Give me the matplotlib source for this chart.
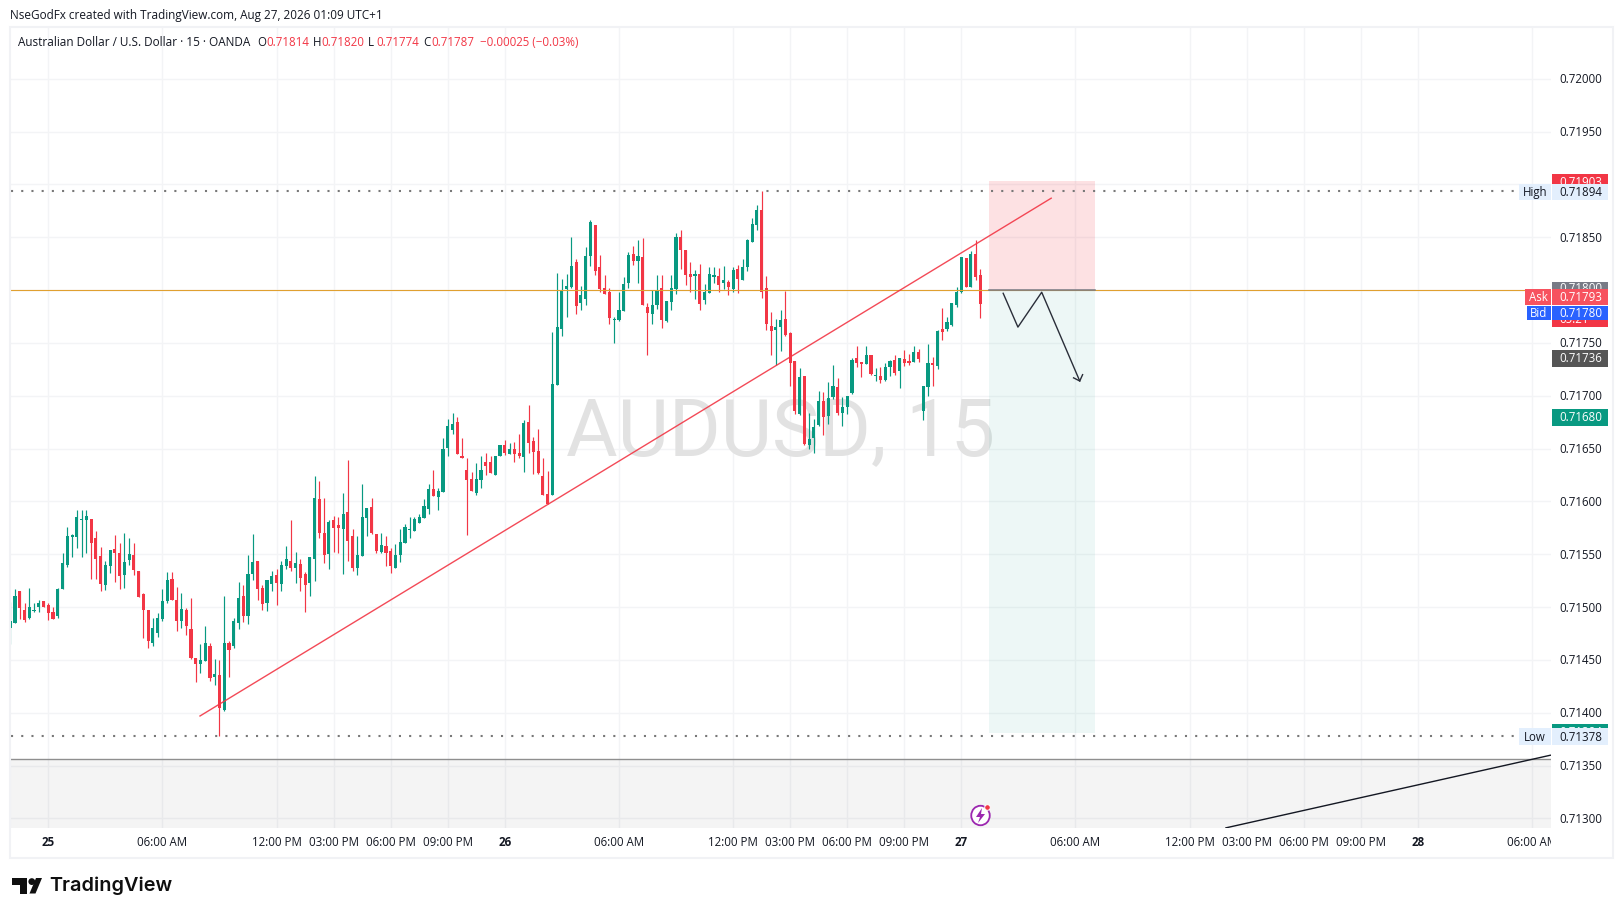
import numpy as np
import matplotlib
matplotlib.use("Agg")
import matplotlib.pyplot as plt
from matplotlib.patches import Rectangle, Ellipse, Polygon, Circle
from matplotlib.transforms import Bbox

# prices in 1/100000 of a dollar, 15-minute bars
first_bar = -8
opens = [71480,71485,71515,71497,71490,71496,71500,71506,71502,71495,
71492,71517,71540,71566,71566,71582,71582,71583,71565,71548,
71521,71539,71555,71551,71530,71545,71549,71534,71512,71497,
71466,71476,71489,71506,71527,71507,71487,71497,71479,71452,
71446,71449,71463,71434,71436,71403,71466,71463,71485,71511,
71492,71531,71544,71518,71504,71522,71530,71522,71539,71544,
71537,71541,71531,71523,71546,71602,71570,71550,71582,71578,
71574,71590,71567,71537,71548,71584,71595,71569,71552,71558,
71553,71537,71549,71561,71573,71572,71580,71584,71593,71612,
71604,71609,71651,71668,71675,71643,71630,71621,71608,71620,
71637,71637,71625,71643,71653,71645,71650,71646,71642,71675,
71657,71648,71624,71607,71606,71710,71763,71801,71803,71827,
71788,71792,71832,71862,71822,71802,71798,71772,71772,71780,
71807,71834,71828,71831,71784,71777,71786,71802,71771,71789,
71801,71850,71838,71815,71813,71815,71791,71797,71812,71813,
71807,71808,71801,71820,71810,71822,71846,71862,71876,71802,
71766,71762,71765,71773,71759,71733,71683,71719,71653,71660,
71672,71695,71681,71699,71708,71684,71689,71703,71736,71732,
71730,71739,71719,71719,71715,71727,71734,71723,71735,71733,
71732,71741,71686,71708,71731,71728,71763,71763,71767,71786,
71798,71830,71803,71834,71814]
highs = [71505,71517,71515,71504,71518,71504,71507,71506,71504,71500,
71518,71551,71576,71569,71592,71592,71592,71583,71572,71557,
71544,71554,71568,71561,71570,71565,71561,71534,71513,71497,
71490,71494,71517,71533,71533,71519,71513,71499,71509,71452,
71465,71482,71466,71451,71450,71511,71468,71490,71524,71521,
71549,71569,71544,71521,71526,71534,71536,71544,71558,71582,
71552,71546,71533,71547,71624,71619,71603,71582,71586,71585,
71608,71639,71574,71567,71617,71594,71603,71569,71570,71567,
71556,71560,71574,71579,71585,71585,71588,71602,71617,71630,
71613,71660,71678,71684,71680,71660,71641,71628,71636,71643,
71646,71643,71643,71653,71658,71655,71656,71664,71677,71691,
71661,71669,71641,71629,71760,71816,71811,71815,71850,71829,
71804,71841,71866,71862,71833,71814,71802,71775,71798,71812,
71836,71842,71847,71849,71788,71800,71814,71814,71790,71814,
71854,71857,71838,71827,71819,71825,71806,71822,71822,71821,
71823,71810,71822,71824,71829,71848,71868,71881,71894,71813,
71779,71773,71781,71799,71760,71733,71726,71719,71684,71678,
71705,71704,71713,71729,71717,71699,71700,71736,71747,71732,
71747,71739,71726,71727,71731,71734,71739,71736,71743,71740,
71747,71744,71709,71749,71737,71762,71783,71775,71788,71803,
71831,71830,71837,71847,71820]
lows = [71465,71485,71489,71486,71489,71495,71495,71500,71488,71489,
71490,71517,71538,71547,71556,71547,71551,71527,71527,71515,
71516,71532,71524,71517,71518,71540,71530,71510,71471,71461,
71463,71472,71487,71504,71507,71477,71480,71474,71451,71429,
71438,71449,71430,71426,71378,71402,71434,71461,71479,71486,
71484,71526,71507,71497,71496,71515,71502,71515,71536,71534,
71523,71515,71495,71511,71525,71565,71542,71536,71552,71551,
71531,71544,71534,71530,71548,71567,71569,71551,71551,71539,
71532,71537,71543,71561,71565,71572,71580,71584,71588,71605,
71592,71609,71643,71664,71645,71641,71568,71610,71606,71613,
71625,71627,71625,71643,71644,71645,71637,71641,71628,71646,
71626,71626,71606,71598,71606,71710,71757,71775,71802,71777,
71781,71786,71823,71814,71798,71796,71768,71750,71771,71780,
71802,71824,71807,71786,71739,71768,71782,71764,71770,71781,
71796,71820,71805,71798,71792,71781,71787,71797,71807,71798,
71801,71795,71798,71797,71810,71818,71846,71857,71793,71762,
71739,71729,71742,71757,71709,71683,71682,71653,71650,71646,
71671,71663,71673,71697,71682,71671,71683,71702,71727,71718,
71730,71720,71714,71712,71714,71719,71720,71707,71728,71729,
71732,71732,71677,71700,71709,71725,71753,71761,71766,71784,
71797,71803,71803,71810,71774]
closes = [71487,71511,71499,71488,71500,71497,71504,71500,71494,71489,
71517,71542,71567,71568,71585,71583,71586,71561,71546,71522,
71540,71554,71551,71529,71543,71550,71535,71510,71497,71468,
71480,71490,71506,71526,71507,71487,71498,71482,71452,71446,
71450,71466,71433,71437,71405,71466,71459,71487,71509,71492,
71531,71543,71517,71503,71526,71529,71523,71540,71546,71537,
71542,71528,71521,71547,71603,71570,71549,71581,71575,71575,
71588,71563,71537,71549,71585,71594,71570,71553,71559,71551,
71539,71549,71562,71576,71574,71583,71585,71596,71612,71605,
71610,71650,71671,71673,71645,71641,71620,71610,71621,71630,
71634,71627,71643,71653,71646,71650,71645,71643,71674,71655,
71647,71627,71606,71598,71711,71765,71800,71804,71823,71785,
71795,71832,71864,71818,71801,71796,71774,71773,71781,71806,
71833,71828,71832,71786,71778,71786,71800,71772,71790,71802,
71850,71838,71814,71812,71815,71787,71798,71815,71814,71805,
71810,71803,71819,71811,71822,71847,71863,71876,71798,71768,
71761,71765,71772,71758,71731,71686,71718,71654,71659,71670,
71695,71680,71698,71709,71684,71689,71700,71734,71731,71730,
71739,71721,71720,71715,71727,71733,71722,71736,71731,71731,
71741,71735,71709,71731,71729,71761,71760,71770,71788,71798,
71831,71803,71834,71812,71787]

price_ticks = [0.72000,0.71950,0.71900,0.71850,0.71800,0.71750,0.71700,0.71650,
               0.71600,0.71550,0.71500,0.71450,0.71400,0.71350,0.71300]
time_pos = [0,24,48,60,72,84,96,120,144,156,168,180,192,216,240,252,264,276,288,312]
time_labels = ["25","06:00 AM","12:00 PM","03:00 PM","06:00 PM","09:00 PM","26","06:00 AM",
               "12:00 PM","03:00 PM","06:00 PM","09:00 PM","27","06:00 AM","12:00 PM",
               "03:00 PM","06:00 PM","09:00 PM","28","06:00 AM"]
day_labels = {"25","26","27","28"}

high_price, low_price = 0.71894, 0.71378
hline_price = 0.71800
support_price = 0.71356
trend_x, trend_y = [31.9, 210.9], [0.71397, 0.71887]
lower_x, lower_y = [247.5, 316.0], [0.71291, 0.71360]
pos_x = [197.8, 220.1]
pos_stop, pos_entry, pos_target = 0.71903, 0.71800, 0.71381
path_x = [200.8, 203.9, 208.9, 216.9]
path_y = [0.71797, 0.71765, 0.71798, 0.71714]
head_x = [215.6, 216.9, 217.5]
head_y = [0.71717, 0.71714, 0.71720]

GREEN, RED = "#089981", "#f23645"
INK = "#131722"
GRID = "#f3f4f6"
FONT = "Open Sans"
plt.rcParams["font.family"] = [FONT, "DejaVu Sans"]

W, H = 1623, 916
fig = plt.figure(figsize=(W / 100, H / 100), dpi=100, facecolor="white")
L, R, T, B = 10.5, 1551.0, 27.0, 828.0
ax = fig.add_axes([L / W, 1 - B / H, (R - L) / W, (B - T) / H])
XLIM = (-7.95, 316.0)
YLIM = (0.71291, 0.72049)
ax.set_xlim(*XLIM)
ax.set_ylim(*YLIM)
ax.axis("off")

over = fig.add_axes([0, 0, 1, 1], zorder=5)
over.set_xlim(0, W)
over.set_ylim(H, 0)
over.axis("off")
over.patch.set_alpha(0)

def py(v):
    return B - (v - YLIM[0]) / (YLIM[1] - YLIM[0]) * (B - T)

# grid
for p in price_ticks:
    ax.axhline(p, color=GRID, lw=1.0, zorder=1)
for t in time_pos:
    ax.axvline(t, color=GRID, lw=1.0, zorder=1)

# watermark
ax.text((XLIM[0] + XLIM[1]) / 2, (0.72 - (455 - 79) / 105640), "AUDUSD, 15", color="#e2e2e2",
        fontsize=57, family="Roboto", ha="center", va="baseline", zorder=1.5)

# support zone
ax.axhspan(YLIM[0], support_price, color="black", alpha=0.045, lw=0, zorder=2)
ax.axhline(support_price, color="#8f8f8f", lw=1.0, zorder=2.2)
ax.plot(lower_x, lower_y, color="#131722", lw=1.0, zorder=6, solid_capstyle="butt")

# short position box
ax.add_patch(Rectangle((pos_x[0], pos_entry), pos_x[1] - pos_x[0], pos_stop - pos_entry,
                       fc=RED, alpha=0.15, lw=0, zorder=2.5))
ax.add_patch(Rectangle((pos_x[0], pos_target), pos_x[1] - pos_x[0], pos_entry - pos_target,
                       fc=GREEN, alpha=0.07, lw=0, zorder=2.5))
ax.plot(pos_x, [pos_entry, pos_entry], color="#787b86", lw=1.1, zorder=4.2)

# candles
op, hi, lo, cl = [np.array(a) / 1e5 for a in (opens, highs, lows, closes)]
xs = first_bar + np.arange(len(op))
cols = [GREEN if c >= o else RED for o, c in zip(op, cl)]
ax.vlines(xs, lo, hi, colors=cols, lw=0.85, zorder=3)
bottoms = np.minimum(op, cl)
heights = np.maximum(np.abs(cl - op), 0.00001)
ax.bar(xs, heights, 0.66, bottom=bottoms, color=cols, lw=0, zorder=3.1)

# levels
ax.axhline(hline_price, color="#e0a030", lw=0.8, zorder=4)
ax.plot(trend_x, trend_y, color=RED, lw=1.0, alpha=0.9, zorder=4.5)
ax.plot(path_x, path_y, color="#2a2e39", lw=1.0, zorder=5)
ax.plot(head_x, head_y, color="#2a2e39", lw=1.0, zorder=5)
for p in (high_price, low_price):
    ax.plot([XLIM[0], (1518 - 48.3) / 4.755], [p, p], color="#787878", lw=1.5,
            ls=(0, (1.0, 3.9)), zorder=4, dash_capstyle="butt")

# frame
over.add_patch(Rectangle((9.5, 26.5), 1603, 831, fc="none", ec="#f1f2f5", lw=1.5))

# price scale
hidden = {0.719, 0.718}
for p in price_ticks:
    if p not in hidden:
        over.text(1559.5, py(p) + 1, f"{p:.5f}", color=INK, fontsize=8.3, va="center", ha="left", zorder=3)

def tag(y0, y1, text, fc, tc="white", x0=1552, x1=1608, tx=1559.5, ha="left", z=5, txt_y=None):
    over.add_patch(Rectangle((x0, y0), x1 - x0, y1 - y0, fc=fc, lw=0, zorder=z))
    t = over.text(tx, (y0 + y1) / 2 + 0.5 if txt_y is None else txt_y, text, color=tc, fontsize=8.3,
                  va="center", ha=ha, zorder=z + 0.1)
    t.set_clip_on(True)
    return t

tag(173.5, 192, "0.71903", RED, z=4, txt_y=182)
tag(183.5, 200, "0.71894", "#e3effd", INK, z=5)
tag(183.5, 200, "High", "#e3effd", INK, x0=1519, x1=1551, tx=1535, ha="center", z=5)
tag(281.5, 298, "0.71800", "#787b86", z=4, txt_y=289)
tag(306, 326.8, "05:21", RED, z=4, txt_y=319.5)
tag(289.3, 305.5, "0.71793", "#f7525f", z=5)
tag(289.3, 305.5, "Ask", "#f7525f", x0=1525, x1=1551, tx=1538, ha="center", z=5)
tag(305.5, 319.7, "0.71780", "#2962ff", z=5.5)
tag(305.5, 319.7, "Bid", "#2962ff", x0=1527, x1=1551, tx=1539, ha="center", z=5.5)
tag(350, 366.7, "0.71736", "#555555", z=5)
tag(409, 425.5, "0.71680", GREEN, z=5)
tag(724, 740, "0.71384", GREEN, z=4, txt_y=732)
tag(728.3, 745, "0.71378", "#e3effd", INK, z=5)
tag(728.3, 745, "Low", "#e3effd", INK, x0=1519, x1=1551, tx=1535, ha="center", z=5)

# time scale
clip = Bbox([[0, 0], [R, H]])
for t, s in zip(time_pos, time_labels):
    txt = ax.text(t, 0.72 - (842.7 - 79) / 105640, s, color=INK, fontsize=8.3,
                  fontweight="bold" if s in day_labels else "normal",
                  ha="center", va="center", zorder=8, clip_on=True)
    txt.set_clip_box(clip)

# header
over.text(10.5, 15.5, "NseGodFx created with TradingView.com, Aug 27, 2026 01:09 UTC+1", color=INK,
          fontsize=8.45, va="center", ha="left")
ly = 42.3
legend = [(18, "Australian Dollar / U.S. Dollar · 15 · OANDA", INK),
          (257.5, "O", INK), (266, "0.71814", RED),
          (312.5, "H", INK), (321.5, "0.71820", RED),
          (367.5, "L", INK), (376, "0.71774", RED),
          (423, "C", INK), (431.5, "0.71787", RED),
          (479.5, "−0.00025 (−0.03%)", RED)]
for x, s, c in legend:
    over.text(x, ly, s, color=c, fontsize=8.45 if s.startswith("Aus") else 8.3, va="center", ha="left")

# alert icon
over.add_patch(Ellipse((980.5, 815.5), 18.5, 19.5, fc="white", ec="#9c27b0", lw=1.3))
over.add_patch(Polygon([[982, 808], [976, 817], [980, 817], [978, 823],
                        [985, 814], [981, 814]], fc="#9c27b0", lw=0))
over.add_patch(Circle((987.5, 807.5), 2.8, fc=RED, ec="white", lw=0.7))

# logo
over.add_patch(Polygon([[12.3, 878], [27.3, 878], [27.3, 893.5], [20, 893.5], [20, 885], [12.3, 885]],
                       fc="#0f0f0f", lw=0))
over.add_patch(Circle((31.8, 881.6), 3.4, fc="#0f0f0f", lw=0))
over.add_patch(Polygon([[35.5, 893.5], [29.5, 893.5], [36, 878], [42, 878]], fc="#0f0f0f", lw=0))
over.text(49.5, 885.5, "TradingView", color="#0f0f0f", fontsize=14.3, fontweight="semibold",
          family="Inter", va="center", ha="left")

fig.savefig("out.png", dpi=100, facecolor="white")
